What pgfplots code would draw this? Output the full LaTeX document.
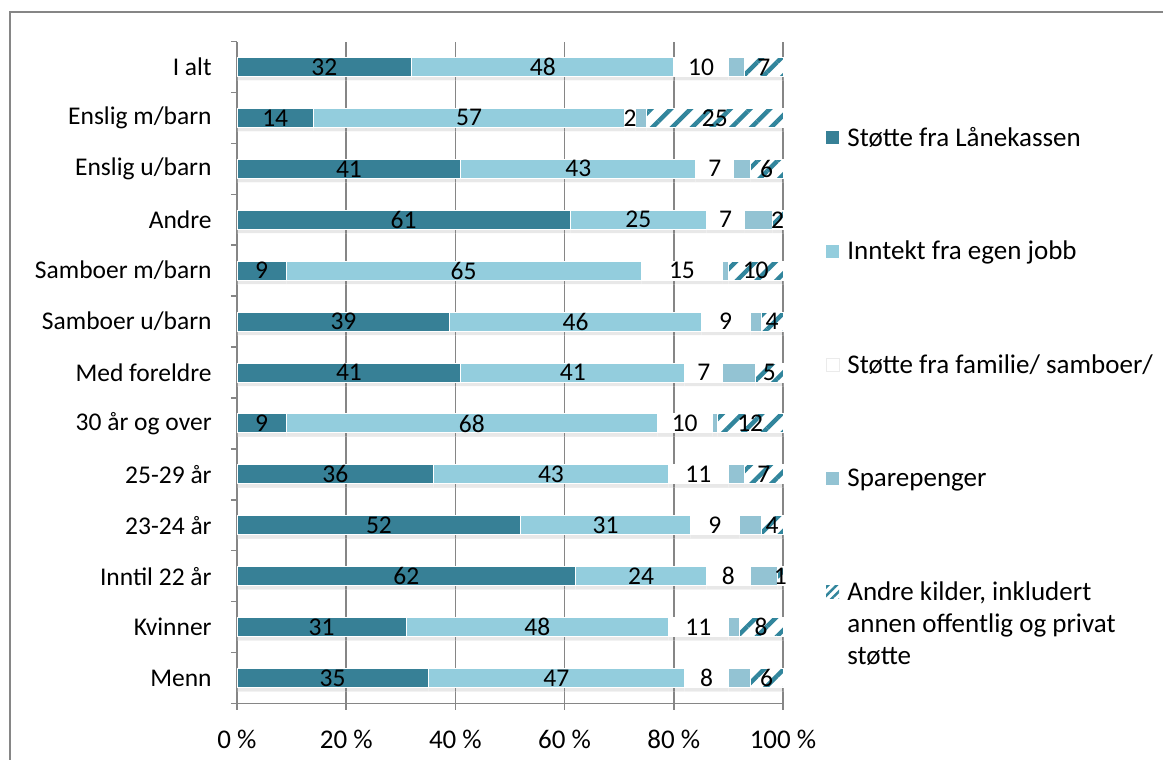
\documentclass[border=0pt]{standalone}
\usepackage{fontspec}
\setmainfont{Carlito}
\usepackage{pgfplots}
\pgfplotsset{compat=1.18}
\usepackage{pgfplotstable}
\usetikzlibrary{patterns.meta,shadows}

\definecolor{lk}{RGB}{55,128,150}
\definecolor{job}{RGB}{147,205,221}
\definecolor{spar}{RGB}{147,195,211}
\definecolor{hatch}{RGB}{49,133,156}
\definecolor{linegray}{RGB}{134,134,134}

% idx 12 = I alt (top) ... 0 = Menn (bottom)
\pgfplotstableread{
idx lk job fam spar andre
12  32 48 10 3 7
11  14 57 2  2 25
10  41 43 7  3 6
9   61 25 7  5 2
8   9  65 15 1 10
7   39 46 9  2 4
6   41 41 7  6 5
5   9  68 10 1 12
4   36 43 11 3 7
3   52 31 9  4 4
2   62 24 8  5 1
1   31 48 11 2 8
0   35 47 8  4 6
}\shares

\pgfplotsset{
  seg/.style={draw=white, line width=0.5pt,
    drop shadow={shadow xshift=0pt, shadow yshift=-2pt, opacity=0.18}},
  % stacked bars already centre the labels in their segment
  lbl/.style={nodes near coords, point meta=explicit,
    every node near coord/.append style={anchor=center, inner sep=0pt, text=black}},
}

\begin{document}
\fontsize{12.75}{15}\selectfont
\begin{tikzpicture}
\useasboundingbox (0,0) rectangle (581.5pt,-380pt);
\draw[linegray, line width=0.75pt] (5pt,-390pt) -- (5pt,-6pt) -- (590pt,-6pt);

\begin{axis}[
  at={(118.5pt,-351.75pt)}, anchor=south west,
  scale only axis, width=273pt, height=331pt,
  xbar stacked, bar width=9.5pt,
  xmin=0, xmax=100, ymin=-0.5, ymax=12.5,
  axis lines=left, axis line style={-, linegray, line width=0.75pt},
  /pgf/number format/assume math mode=true,
  xtick={0,20,...,100},
  xticklabels={0 \%,20 \%,40 \%,60 \%,80 \%,100 \%},
  ytick={0,...,12},
  yticklabels={Menn,Kvinner,Inntil 22 år,23-24 år,25-29 år,30 år og over,Med foreldre,Samboer u/barn,Samboer m/barn,Andre,Enslig u/barn,Enslig m/barn,I alt\hspace{0.3em}},
  minor ytick={-0.5,0.5,...,12.5},
  tick align=outside, major tick length=3pt, minor tick length=3pt,
  tick style={linegray, line width=0.75pt},
  every major y tick/.append style={draw=none},
  xmajorgrids, grid style={linegray, line width=0.75pt},
  yticklabel style={anchor=east, inner sep=0pt, xshift=-9.5pt},
  xticklabel style={yshift=-6pt, font=\fontsize{13.5}{15}\selectfont},
  clip=false,
]
\addplot[seg, fill=lk, lbl] table[x=lk, y=idx, meta=lk] {\shares};
\addplot[seg, fill=job, lbl] table[x=job, y=idx, meta=job] {\shares};
\addplot[seg, fill=white, lbl] table[x=fam, y=idx, meta=fam] {\shares};
\addplot[seg, fill=spar] table[x=spar, y=idx] {\shares};
\addplot[seg, fill=white, postaction={pattern={Lines[angle=45, distance=7pt, line width=2.2pt]}, pattern color=hatch}, lbl] table[x=andre, y=idx, meta=andre] {\shares};
\end{axis}

% legend
\fill[lk] (413pt,-65.5pt) rectangle ++(6.5pt,-6.5pt);
\fill[job] (413pt,-122.25pt) rectangle ++(6.5pt,-6.5pt);
\draw[black!8, fill=white] (413pt,-179pt) rectangle ++(6.5pt,-6.5pt);
\fill[spar] (413pt,-235.75pt) rectangle ++(6.5pt,-6.5pt);
\fill[white] (413pt,-292.5pt) rectangle ++(6.5pt,-6.5pt);
\path[pattern={Lines[angle=45, distance=3pt, line width=1.2pt]}, pattern color=hatch] (413pt,-292.5pt) rectangle ++(6.5pt,-6.5pt);
\begin{scope}[every node/.style={anchor=base west, inner sep=0pt, font=\fontsize{13.5}{16}\selectfont}]
\node at (423.5pt,-73pt) {Støtte fra Lånekassen};
\node at (423.5pt,-129.75pt) {Inntekt fra egen jobb};
\node at (423.5pt,-186.5pt) {Støtte fra familie/ samboer/};
\node at (423.5pt,-243.25pt) {Sparepenger};
\node at (423.5pt,-300pt) {Andre kilder, inkludert};
\node at (423.5pt,-316pt) {annen offentlig og privat};
\node at (423.5pt,-332pt) {støtte};
\end{scope}
\end{tikzpicture}
\end{document}
